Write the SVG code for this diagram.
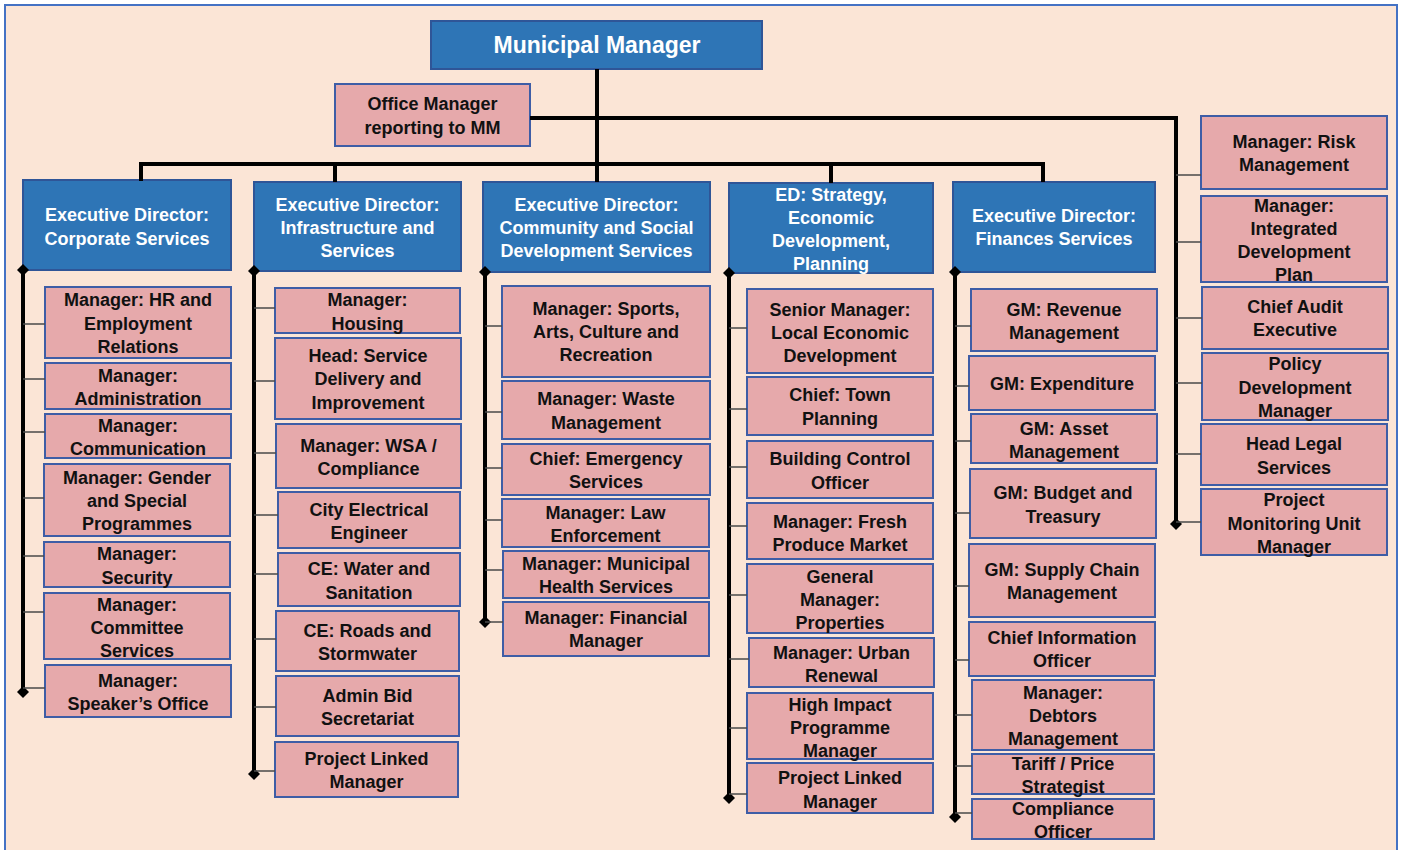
<svg xmlns="http://www.w3.org/2000/svg" width="1403" height="850" viewBox="0 0 1403 850">
<defs>
<style>
text{font-family:"Liberation Sans",Arial,sans-serif;font-weight:bold;font-size:18px;text-anchor:middle;fill:#111}
.ed rect{fill:#2E75B6;stroke:#2F5597;stroke-width:2}
.ed text{fill:#fff}
.mg rect{fill:#E6A9AB;stroke:#3E5DA6;stroke-width:2}
.trunk{stroke:#000;stroke-width:4;fill:none}
.br{stroke:#4a4a4a;stroke-width:1.5}
</style>
<marker id="dia" markerUnits="userSpaceOnUse" markerWidth="14" markerHeight="14" viewBox="-7 -7 14 14" refX="0" refY="0" orient="auto">
<path d="M0,-6 L6,0 L0,6 L-6,0 Z" fill="#000"/>
</marker>
</defs>
<rect x="5" y="5" width="1392" height="870" fill="#FBE5D6" stroke="#4472C4" stroke-width="2"/>

<g id="mm" class="ed"><rect x="431" y="21" width="331" height="48"/><text x="597" y="53" style="font-size:23px">Municipal Manager</text></g>
<g id="office" class="mg"><rect x="335" y="84" width="195" height="62"/><text x="432.5" y="109.5">Office Manager</text><text x="432.5" y="133.5">reporting to MM</text></g>

<g id="ed-corp" class="ed"><rect x="23" y="180" width="208" height="90"/><text x="127" y="220.5">Executive Director:</text><text x="127" y="244.5">Corporate Services</text></g>
<g id="ed-infra" class="ed"><rect x="254" y="182" width="207" height="89"/><text x="357.5" y="210.5">Executive Director:</text><text x="357.5" y="233.5">Infrastructure and</text><text x="357.5" y="256.5">Services</text></g>
<g id="ed-comm" class="ed"><rect x="483" y="182" width="227" height="90"/><text x="596.5" y="210.5">Executive Director:</text><text x="596.5" y="233.5">Community and Social</text><text x="596.5" y="256.5">Development Services</text></g>
<g id="ed-strat" class="ed"><rect x="729" y="183" width="204" height="90"/><text x="831" y="200.5">ED: Strategy,</text><text x="831" y="223.5">Economic</text><text x="831" y="246.5">Development,</text><text x="831" y="269.5">Planning</text></g>
<g id="ed-fin" class="ed"><rect x="953" y="182" width="202" height="90"/><text x="1054" y="221.5">Executive Director:</text><text x="1054" y="244.5">Finances Services</text></g>

<g id="c-hr" class="mg"><rect x="45" y="287" width="186" height="71"/><text x="138" y="305.5">Manager: HR and</text><text x="138" y="329.5">Employment</text><text x="138" y="352.5">Relations</text></g>
<g id="c-admin" class="mg"><rect x="45" y="363" width="186" height="46"/><text x="138" y="381.5">Manager:</text><text x="138" y="404.5">Administration</text></g>
<g id="c-comm" class="mg"><rect x="45" y="414" width="186" height="44"/><text x="138" y="431.5">Manager:</text><text x="138" y="454.5">Communication</text></g>
<g id="c-gender" class="mg"><rect x="44" y="464" width="186" height="72"/><text x="137" y="483.5">Manager: Gender</text><text x="137" y="506.5">and Special</text><text x="137" y="529.5">Programmes</text></g>
<g id="c-sec" class="mg"><rect x="44" y="542" width="186" height="45"/><text x="137" y="559.5">Manager:</text><text x="137" y="583.5">Security</text></g>
<g id="c-committee" class="mg"><rect x="44" y="593" width="186" height="66"/><text x="137" y="610.5">Manager:</text><text x="137" y="633.5">Committee</text><text x="137" y="656.5">Services</text></g>
<g id="c-speaker" class="mg"><rect x="45" y="665" width="186" height="52"/><text x="138" y="686.5">Manager:</text><text x="138" y="709.5">Speaker’s Office</text></g>

<g id="i-housing" class="mg"><rect x="275" y="288" width="185" height="45"/><text x="367.5" y="305.5">Manager:</text><text x="367.5" y="329.5">Housing</text></g>
<g id="i-head" class="mg"><rect x="275" y="338" width="186" height="81"/><text x="368" y="361.5">Head: Service</text><text x="368" y="384.5">Delivery and</text><text x="368" y="408.5">Improvement</text></g>
<g id="i-wsa" class="mg"><rect x="276" y="424" width="185" height="64"/><text x="368.5" y="451.5">Manager: WSA /</text><text x="368.5" y="474.5">Compliance</text></g>
<g id="i-elec" class="mg"><rect x="278" y="492" width="182" height="56"/><text x="369" y="515.5">City Electrical</text><text x="369" y="538.5">Engineer</text></g>
<g id="i-water" class="mg"><rect x="278" y="553" width="182" height="53"/><text x="369" y="574.5">CE: Water and</text><text x="369" y="598.5">Sanitation</text></g>
<g id="i-roads" class="mg"><rect x="276" y="611" width="183" height="60"/><text x="367.5" y="636.5">CE: Roads and</text><text x="367.5" y="659.5">Stormwater</text></g>
<g id="i-bid" class="mg"><rect x="276" y="676" width="183" height="60"/><text x="367.5" y="701.5">Admin Bid</text><text x="367.5" y="724.5">Secretariat</text></g>
<g id="i-plm" class="mg"><rect x="275" y="742" width="183" height="55"/><text x="366.5" y="764.5">Project Linked</text><text x="366.5" y="787.5">Manager</text></g>

<g id="s-sports" class="mg"><rect x="502" y="286" width="208" height="91"/><text x="606" y="314.5">Manager: Sports,</text><text x="606" y="337.5">Arts, Culture and</text><text x="606" y="360.5">Recreation</text></g>
<g id="s-waste" class="mg"><rect x="502" y="381" width="208" height="58"/><text x="606" y="404.5">Manager: Waste</text><text x="606" y="428.5">Management</text></g>
<g id="s-emerg" class="mg"><rect x="502" y="444" width="208" height="51"/><text x="606" y="464.5">Chief: Emergency</text><text x="606" y="487.5">Services</text></g>
<g id="s-law" class="mg"><rect x="502" y="499" width="207" height="48"/><text x="605.5" y="518.5">Manager: Law</text><text x="605.5" y="541.5">Enforcement</text></g>
<g id="s-health" class="mg"><rect x="503" y="551" width="206" height="47"/><text x="606" y="569.5">Manager: Municipal</text><text x="606" y="592.5">Health Services</text></g>
<g id="s-fin" class="mg"><rect x="503" y="602" width="206" height="54"/><text x="606" y="623.5">Manager: Financial</text><text x="606" y="646.5">Manager</text></g>

<g id="e-led" class="mg"><rect x="747" y="289" width="186" height="84"/><text x="840" y="315.5">Senior Manager:</text><text x="840" y="338.5">Local Economic</text><text x="840" y="361.5">Development</text></g>
<g id="e-town" class="mg"><rect x="747" y="377" width="186" height="58"/><text x="840" y="400.5">Chief: Town</text><text x="840" y="424.5">Planning</text></g>
<g id="e-build" class="mg"><rect x="747" y="441" width="186" height="57"/><text x="840" y="464.5">Building Control</text><text x="840" y="488.5">Officer</text></g>
<g id="e-fresh" class="mg"><rect x="747" y="503" width="186" height="56"/><text x="840" y="527.5">Manager: Fresh</text><text x="840" y="550.5">Produce Market</text></g>
<g id="e-prop" class="mg"><rect x="747" y="564" width="186" height="69"/><text x="840" y="582.5">General</text><text x="840" y="605.5">Manager:</text><text x="840" y="628.5">Properties</text></g>
<g id="e-urban" class="mg"><rect x="749" y="638" width="185" height="49"/><text x="841.5" y="658.5">Manager: Urban</text><text x="841.5" y="681.5">Renewal</text></g>
<g id="e-hip" class="mg"><rect x="747" y="693" width="186" height="66"/><text x="840" y="710.5">High Impact</text><text x="840" y="733.5">Programme</text><text x="840" y="756.5">Manager</text></g>
<g id="e-plm" class="mg"><rect x="747" y="763" width="186" height="50"/><text x="840" y="783.5">Project Linked</text><text x="840" y="807.5">Manager</text></g>

<g id="f-rev" class="mg"><rect x="971" y="289" width="186" height="62"/><text x="1064" y="315.5">GM: Revenue</text><text x="1064" y="338.5">Management</text></g>
<g id="f-exp" class="mg"><rect x="969" y="356" width="186" height="54"/><text x="1062" y="389.5">GM: Expenditure</text></g>
<g id="f-asset" class="mg"><rect x="971" y="414" width="186" height="49"/><text x="1064" y="434.5">GM: Asset</text><text x="1064" y="457.5">Management</text></g>
<g id="f-budget" class="mg"><rect x="970" y="469" width="186" height="69"/><text x="1063" y="498.5">GM: Budget and</text><text x="1063" y="522.5">Treasury</text></g>
<g id="f-scm" class="mg"><rect x="969" y="544" width="186" height="73"/><text x="1062" y="575.5">GM: Supply Chain</text><text x="1062" y="598.5">Management</text></g>
<g id="f-cio" class="mg"><rect x="969" y="622" width="186" height="54"/><text x="1062" y="643.5">Chief Information</text><text x="1062" y="666.5">Officer</text></g>
<g id="f-debt" class="mg"><rect x="972" y="680" width="182" height="70"/><text x="1063" y="698.5">Manager:</text><text x="1063" y="721.5">Debtors</text><text x="1063" y="744.5">Management</text></g>
<g id="f-tariff" class="mg"><rect x="972" y="754" width="182" height="40"/><text x="1063" y="769.5">Tariff / Price</text><text x="1063" y="792.5">Strategist</text></g>
<g id="f-comp" class="mg"><rect x="972" y="799" width="182" height="40"/><text x="1063" y="814.5">Compliance</text><text x="1063" y="837.5">Officer</text></g>

<g id="r-risk" class="mg"><rect x="1201" y="116" width="186" height="73"/><text x="1294" y="147.5">Manager: Risk</text><text x="1294" y="170.5">Management</text></g>
<g id="r-idp" class="mg"><rect x="1201" y="196" width="186" height="86"/><text x="1294" y="211.5">Manager:</text><text x="1294" y="234.5">Integrated</text><text x="1294" y="257.5">Development</text><text x="1294" y="280.5">Plan</text></g>
<g id="r-audit" class="mg"><rect x="1202" y="287" width="186" height="62"/><text x="1295" y="312.5">Chief Audit</text><text x="1295" y="335.5">Executive</text></g>
<g id="r-policy" class="mg"><rect x="1202" y="353" width="186" height="67"/><text x="1295" y="369.5">Policy</text><text x="1295" y="393.5">Development</text><text x="1295" y="416.5">Manager</text></g>
<g id="r-legal" class="mg"><rect x="1201" y="424" width="186" height="61"/><text x="1294" y="449.5">Head Legal</text><text x="1294" y="473.5">Services</text></g>
<g id="r-pmu" class="mg"><rect x="1201" y="489" width="186" height="66"/><text x="1294" y="505.5">Project</text><text x="1294" y="529.5">Monitoring Unit</text><text x="1294" y="552.5">Manager</text></g>

<g id="connectors">
<line class="trunk" x1="597" y1="69" x2="597" y2="182"/>
<path class="trunk" d="M141,181 V164 H1043 V182"/>
<path class="trunk" d="M335,164 V182 M831,164 V183"/>
<polyline class="trunk" points="530,118 1176,118 1176,524" marker-end="url(#dia)"/>
<line class="trunk" x1="23" y1="270" x2="23" y2="692" marker-start="url(#dia)" marker-end="url(#dia)"/>
<line class="trunk" x1="254" y1="271" x2="254" y2="774" marker-start="url(#dia)" marker-end="url(#dia)"/>
<line class="trunk" x1="485" y1="272" x2="485" y2="622" marker-start="url(#dia)" marker-end="url(#dia)"/>
<line class="trunk" x1="729" y1="273" x2="729" y2="798" marker-start="url(#dia)" marker-end="url(#dia)"/>
<line class="trunk" x1="955" y1="272" x2="955" y2="817" marker-start="url(#dia)" marker-end="url(#dia)"/>
<path class="br" d="M23,324H45 M23,379H45 M23,432H45 M23,498H44 M23,556H44 M23,612H44 M23,688H45"/>
<path class="br" d="M254,308H275 M254,381H275 M254,453H276 M254,515H278 M254,574H278 M254,639H276 M254,707H276 M254,771H275"/>
<path class="br" d="M485,326H502 M485,412H502 M485,468H502 M485,520H502 M485,570H503 M485,622H503"/>
<path class="br" d="M729,328H747 M729,409H747 M729,467H747 M729,526H747 M729,595H747 M729,659H749 M729,728H747 M729,794H747"/>
<path class="br" d="M955,326H971 M955,386H969 M955,441H971 M955,513H970 M955,586H969 M955,660H969 M955,715H972 M955,766H972 M955,813H972"/>
<path class="br" d="M1176,175H1201 M1176,242H1201 M1176,318H1202 M1176,383H1202 M1176,454H1201 M1176,522H1201"/>
</g>
</svg>
